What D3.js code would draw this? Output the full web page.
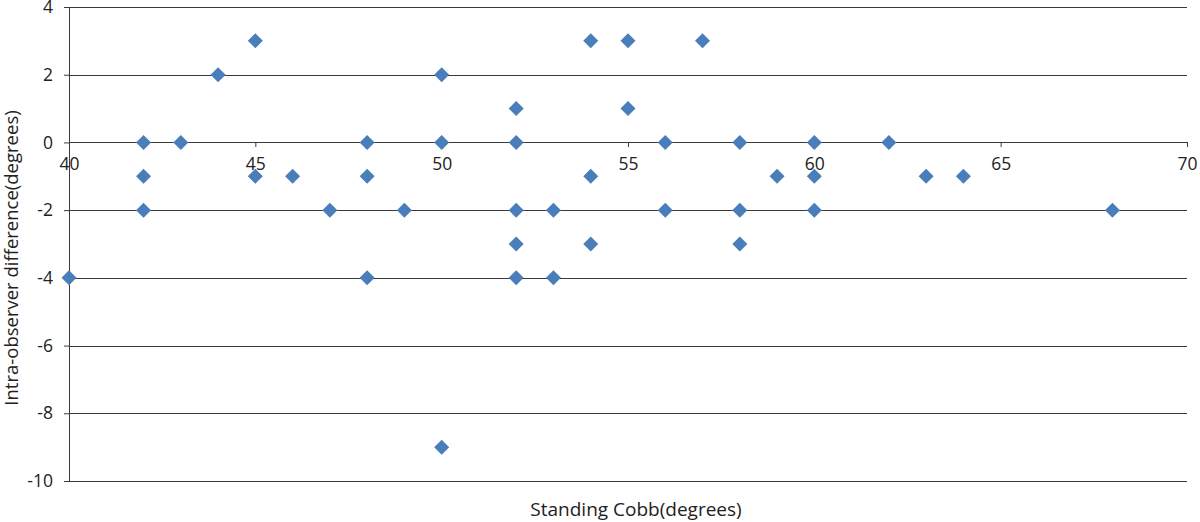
<!DOCTYPE html>
<html>
<head>
<meta charset="utf-8">
<script src="https://cdn.jsdelivr.net/npm/d3@7"></script>
<style>
  body { margin: 0; background: #fff; }
  svg text { font-family: "Open Sans", "Liberation Sans", sans-serif; fill: #222; }
</style>
</head>
<body>
<svg id="chart" width="1200" height="522"></svg>
<script>
// Standing Cobb angle (degrees)
const cobb = [40, 42, 42, 42, 43, 44, 45, 45, 46, 47, 48, 48, 48, 49, 50, 50, 50,
  52, 52, 52, 52, 52, 53, 53, 54, 54, 54, 55, 55, 56, 56, 57, 58, 58, 58,
  59, 60, 60, 60, 62, 63, 64, 68];
// Intra-observer difference (degrees)
const diff = [-4, 0, -1, -2, 0, 2, 3, -1, -1, -2, 0, -1, -4, -2, 2, 0, -9,
  1, 0, -2, -3, -4, -2, -4, 3, -1, -3, 3, 1, 0, -2, 3, 0, -2, -3,
  -1, 0, -1, -2, 0, -1, -1, -2];
const xTicks = [40, 45, 50, 55, 60, 65, 70];
const yTicks = [-10, -8, -6, -4, -2, 0, 2, 4];

const margin = { top: 7, right: 13, bottom: 41, left: 69 };
const width = 1200 - margin.left - margin.right;
const height = 522 - margin.top - margin.bottom;

const svg = d3.select("#chart");
const g = svg.append("g").attr("transform", `translate(${margin.left},${margin.top})`);

const x = d3.scaleLinear().domain([40, 70]).range([0, width]);
const y = d3.scaleLinear().domain([-10, 4]).range([height, 0]);
const fmt = d => String(d); // plain hyphen minus, like the original

// horizontal gridlines
g.append("g")
  .selectAll("line")
  .data(yTicks)
  .join("line")
  .attr("x1", 0)
  .attr("x2", width)
  .attr("y1", d => Math.round(y(d)) + 0.5)
  .attr("y2", d => Math.round(y(d)) + 0.5)
  .attr("stroke", "#3a3a3a")
  .attr("stroke-width", 1);

// y axis
const yAxis = g.append("g")
  .call(d3.axisLeft(y).tickValues(yTicks).tickFormat(fmt).tickSize(5).tickPadding(11));
yAxis.select(".domain").attr("stroke", "#3a3a3a");
yAxis.selectAll(".tick line").attr("stroke", "#3a3a3a");
yAxis.selectAll("text").attr("font-size", 17.5).attr("fill", "#222");

// x axis crossing at y = 0
const xAxis = g.append("g")
  .attr("transform", `translate(0,${Math.round(y(0))})`)
  .call(d3.axisBottom(x).tickValues(xTicks).tickFormat(fmt).tickSize(5).tickPadding(11));
xAxis.select(".domain").remove();
xAxis.selectAll(".tick line").attr("stroke", "#3a3a3a");
xAxis.selectAll("text").attr("font-size", 17.5).attr("fill", "#222");

// points
const pts = cobb.map((c, i) => ({ c, d: diff[i] }));
g.append("g")
  .selectAll("path")
  .data(pts)
  .join("path")
  .attr("d", "M0,-7.5L7.5,0L0,7.5L-7.5,0Z")
  .attr("transform", d => `translate(${x(d.c)},${y(d.d)})`)
  .attr("fill", "#4a7ebb");

// axis titles
svg.append("text")
  .attr("x", 636)
  .attr("y", 516)
  .attr("text-anchor", "middle")
  .attr("font-size", 19)
  .text("Standing Cobb(degrees)");

svg.append("text")
  .attr("transform", "translate(18,258) rotate(-90)")
  .attr("text-anchor", "middle")
  .attr("font-size", 18.5)
  .text("Intra-observer difference(degrees)");
</script>
</body>
</html>
